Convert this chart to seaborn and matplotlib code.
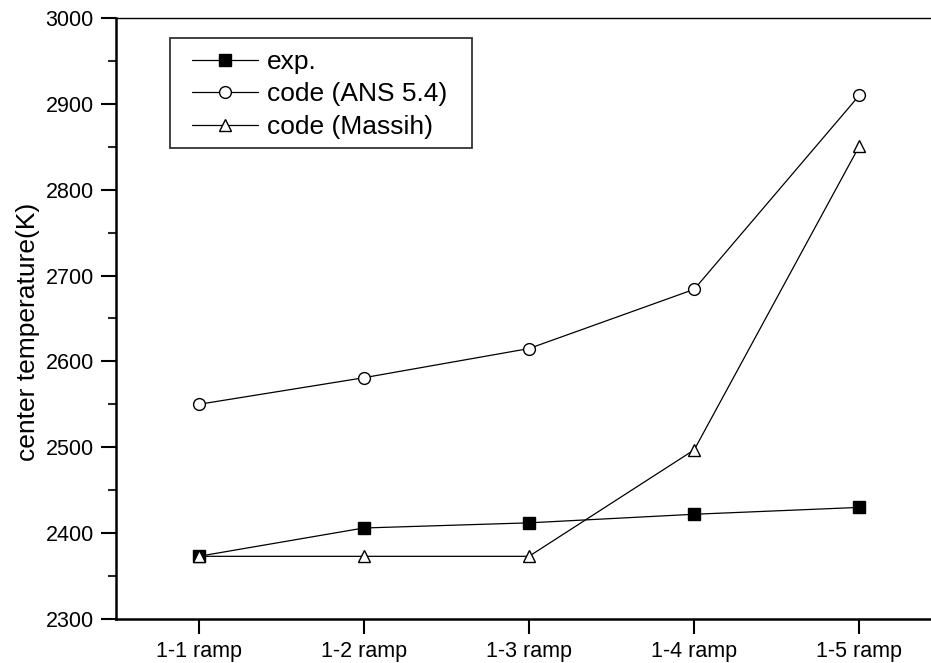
import matplotlib
matplotlib.use("Agg")
import matplotlib.pyplot as plt
import seaborn as sns
import pandas as pd
from matplotlib.ticker import MultipleLocator
from matplotlib.patches import Rectangle

ramps = ["1-1 ramp", "1-2 ramp", "1-3 ramp", "1-4 ramp", "1-5 ramp"]
exp_vals = [2373, 2406, 2412, 2422, 2430]
ans_vals = [2550, 2581, 2615, 2684, 2910]
massih_vals = [2373, 2373, 2373, 2497, 2851]

sns.set_style("ticks")
plt.rcParams["font.family"] = ["Liberation Sans", "DejaVu Sans"]
plt.rcParams["text.color"] = "black"
plt.rcParams["axes.labelcolor"] = "black"

W, H = 931, 663
fig = plt.figure(figsize=(W / 100, H / 100), dpi=100)
ax = fig.add_axes([116 / W, 44 / H, 826 / W, 601 / H])

pos = list(range(len(ramps)))
series = [
    ("exp.", exp_vals, "s", "black", 8),
    ("code (ANS 5.4)", ans_vals, "o", "white", 8.5),
    ("code (Massih)", massih_vals, "^", "white", 8.5),
]
for name, vals, mk, fc, ms in series:
    df = pd.DataFrame({"x": pos, "y": vals})
    sns.lineplot(data=df, x="x", y="y", ax=ax, color="black", linewidth=0.9,
                 marker=mk, markersize=ms, markerfacecolor=fc,
                 markeredgecolor="black", markeredgewidth=1.0, label=name)

ax.set_xlim(-0.5, 4.5)
ax.set_ylim(2300, 3000)
ax.set_xticks(pos)
ax.set_xticklabels(ramps)
ax.yaxis.set_major_locator(MultipleLocator(100))
ax.yaxis.set_minor_locator(MultipleLocator(50))
ax.set_xlabel("")
ax.set_ylabel("center temperature(K)", fontsize=19, color="black")
ax.yaxis.set_label_coords(-0.092, 0.478)

ax.tick_params(axis="both", which="major", direction="out", length=11,
               width=1.5, labelsize=15.5, colors="black", pad=5)
ax.tick_params(axis="y", which="minor", direction="out", length=6, width=1.5)
ax.tick_params(axis="x", which="minor", bottom=False)

for side in ["left", "bottom"]:
    ax.spines[side].set_linewidth(1.8)
ax.spines["top"].set_linewidth(1.0)
ax.spines["right"].set_linewidth(1.0)
for s in ax.spines.values():
    s.set_color("black")

# legend box drawn separately so the padding can match the original
box = Rectangle((170 / W, 1 - 148 / H), 302 / W, 110 / H,
                transform=fig.transFigure, fill=True, fc="white",
                ec="#333333", lw=1.3, zorder=4, clip_on=False)
ax.add_patch(box)
leg = ax.legend(loc="upper left", bbox_to_anchor=(192 / W, 1 - 50 / H),
                bbox_transform=fig.transFigure, fontsize=19, frameon=False,
                handlelength=2.5, handletextpad=0.35, borderpad=0,
                labelspacing=0.32, borderaxespad=0, labelcolor="black")
leg.set_zorder(5)

fig.savefig("out.png", dpi=100)
